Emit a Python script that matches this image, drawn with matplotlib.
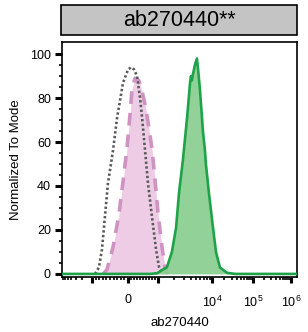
import numpy as np
import matplotlib
matplotlib.use("Agg")
import matplotlib.pyplot as plt
from matplotlib.patches import Rectangle

plt.rcParams["font.family"] = ["Liberation Sans", "DejaVu Sans"]
plt.rcParams["mathtext.fontset"] = "custom"
plt.rcParams["mathtext.rm"] = "Liberation Sans"

# display channel (0-1024, biexponential axis) vs % of mode
unstained_x = [144, 161, 174, 187, 200, 222, 240, 266, 288, 301, 314, 327, 340, 349, 362, 375, 392, 410, 423, 436]
unstained_y = [0, 3, 11, 26, 41, 56, 71, 87, 93, 94, 93, 90, 80, 71, 56, 41, 26, 11, 3, 0]

isotype_x = [180, 196, 222, 248, 266, 283, 296, 305, 318, 335, 349, 362, 375, 392, 405, 418, 436, 449, 462]
isotype_y = [0, 2, 12, 27, 42, 57, 72, 84, 89, 88, 83, 77, 69, 57, 43, 28, 12, 3, 0]

antibody_x = [0, 383, 414, 440, 457, 479, 497, 510, 527, 545, 558, 562, 566, 571, 579, 588,
              593, 601, 610, 614, 623, 627, 640, 658, 671, 688, 719, 754, 1024]
antibody_y = [0, 0, 0.3, 2, 3, 10, 21, 37, 52, 71, 87, 90, 88, 91, 95, 98,
              93, 84, 71, 65, 56, 50, 37, 21, 10, 3, 0.5, 0, 0]

major_ch = [131, 288, 418, 654, 832, 998]
major_labels = ["", "0", "", r"$\mathregular{10^4}$", r"$\mathregular{10^5}$", r"$\mathregular{10^6}$"]

fig = plt.figure(figsize=(3.08, 3.32), dpi=100)
ax = fig.add_axes([62 / 308, 1 - 277 / 332, 235 / 308, 235 / 332])

ax.fill_between(isotype_x, isotype_y, color="#eecce6", lw=0, zorder=1)
ax.plot(isotype_x, isotype_y, color="#cf93c2", lw=2.6, ls=(0, (3.5, 2.5)), zorder=2)
ax.plot(unstained_x, unstained_y, color="#5a5a5a", lw=1.9, ls=(0, (0.9, 0.9)), zorder=3)
ax.fill_between(antibody_x, antibody_y, color="#86cc8c", alpha=0.9, lw=0, zorder=4)
ax.plot(antibody_x, antibody_y, color="#1fa34a", lw=1.9, zorder=5)

ax.set_xlim(0, 1024)
ax.set_ylim(-1.4, 105.5)

# minor ticks for biexponential axis
minor = []
for k in range(1, 10):
    minor.append(288 + (418 - 288) * k / 10)
    minor.append(288 - (288 - 131) * k / 10)
    minor.append(131 - 150 * np.log10(k + 1))
for a, b in [(418, 654), (654, 832), (832, 998)]:
    for k in range(2, 10):
        minor.append(a + (b - a) * np.log10(k))
ax.set_xticks(major_ch)
ax.set_xticklabels(major_labels)
ax.set_xticks([m for m in minor if 0 < m < 1024], minor=True)
ax.set_yticks([0, 20, 40, 60, 80, 100])
ax.set_yticks(np.arange(0, 105, 5), minor=True)

ax.tick_params(axis="y", which="major", length=5, width=2.2, pad=3, labelsize=9)
ax.tick_params(axis="y", which="minor", length=2.5, width=1.2)
ax.tick_params(axis="x", which="major", length=4.5, width=2.2, pad=8, labelsize=9)
ax.tick_params(axis="x", which="minor", length=2.5, width=1.2)

for s in ax.spines.values():
    s.set_linewidth(1.2)

ax.set_ylabel("Normalized To Mode", fontsize=9.5, labelpad=6)
ax.set_xlabel("ab270440", fontsize=9.5, labelpad=5)

fig.patches.append(Rectangle((61 / 308, 1 - 35 / 332), 236 / 308, 30 / 332,
                             transform=fig.transFigure, facecolor="#c4c4c4",
                             edgecolor="black", lw=1.2))
fig.text(179 / 308, 1 - 20 / 332, "ab270440**", ha="center", va="center", fontsize=15.5)

fig.savefig("out.png", dpi=100)
